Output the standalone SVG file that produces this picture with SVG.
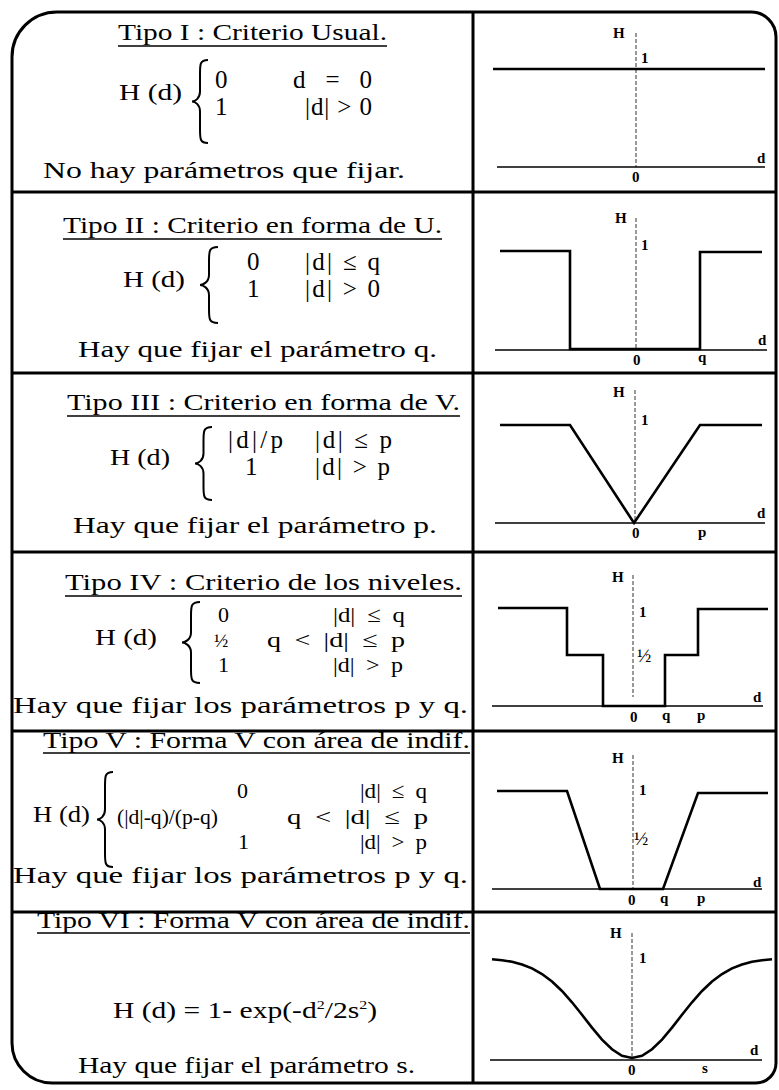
<svg xmlns="http://www.w3.org/2000/svg" width="779" height="1090" viewBox="0 0 779 1090">
<style>
.t{font-family:"Liberation Serif","Times New Roman",serif;font-size:24px;fill:#000}
.c{font-family:"Liberation Serif","Times New Roman",serif;font-size:25px;fill:#000}
.c3{font-family:"Liberation Serif","Times New Roman",serif;font-size:22px;fill:#000;word-spacing:5px}
.s{font-family:"Liberation Serif","Times New Roman",serif;font-size:20px;fill:#000}
.g{font-family:"Liberation Serif","Times New Roman",serif;font-size:15px;font-weight:bold;fill:#000}
.h{font-family:"Liberation Serif","Times New Roman",serif;font-size:19px;fill:#000}
.fn{fill:none;stroke:#000;stroke-width:2.6;stroke-linejoin:miter}
.ax{stroke:#000;stroke-width:1.4}
.vax{stroke:#333;stroke-width:1;stroke-dasharray:4 2}
.ul{stroke:#000;stroke-width:1.5}
.br{fill:none;stroke:#000;stroke-width:2}
.frame{fill:none;stroke:#000;stroke-width:3}
.sep{stroke:#000;stroke-width:3}
</style>
<rect width="779" height="1090" fill="#fff"/>
<g id="grid">
<path class="frame" d="M12,57 A45,45 0 0 1 57,12 L751,12 A25,25 0 0 1 776,37 L776,1063 A20,20 0 0 1 756,1083 L52,1083 A40,40 0 0 1 12,1043 Z"/>
<line class="sep" x1="473" y1="12" x2="473" y2="1083"/>
<line class="sep" x1="12" y1="192" x2="776" y2="192"/>
<line class="sep" x1="12" y1="373" x2="776" y2="373"/>
<line class="sep" x1="12" y1="552" x2="776" y2="552"/>
<line class="sep" x1="12" y1="731" x2="776" y2="731"/>
<line class="sep" x1="12" y1="912" x2="776" y2="912"/>
</g>
<g id="row1-text">
<text class="t" x="118" y="40" textLength="269" lengthAdjust="spacingAndGlyphs">Tipo I : Criterio Usual.</text>
<line class="ul" x1="118" y1="46" x2="387" y2="46"/>
<text class="t" x="119" y="100" textLength="63" lengthAdjust="spacingAndGlyphs">H (d)</text>
<path class="br" d="M208,60 C200,60 200,64 200,74 L200,91.5 C200,98.5 195,101.5 192,101.5 C195,101.5 200,104.5 200,111.5 L200,129 C200,139 200,143 208,143"/>
<text class="c" x="215" y="88">0</text>
<text class="c" x="293" y="88" textLength="79" lengthAdjust="spacing">d = 0</text>
<text class="c" x="215" y="115">1</text>
<text class="c" x="305" y="115" textLength="67" lengthAdjust="spacing">|d| &gt; 0</text>
<text class="t" x="43" y="178" textLength="362" lengthAdjust="spacingAndGlyphs">No hay parámetros que fijar.</text>
</g>
<g id="row2-text">
<text class="t" x="63" y="233" textLength="379" lengthAdjust="spacingAndGlyphs">Tipo II : Criterio en forma de U.</text>
<line class="ul" x1="63" y1="239" x2="442" y2="239"/>
<text class="t" x="123" y="287" textLength="62" lengthAdjust="spacingAndGlyphs">H (d)</text>
<path class="br" d="M218,247 C209,247 209,251 209,261 L209,275 C209,282 203,285 200,285 C203,285 209,288 209,295 L209,309 C209,319 209,323 218,323"/>
<text class="c" x="247" y="270">0</text>
<text class="c" x="305" y="270" textLength="75" lengthAdjust="spacing">|d| ≤ q</text>
<text class="c" x="247" y="297">1</text>
<text class="c" x="305" y="297" textLength="75" lengthAdjust="spacing">|d| &gt; 0</text>
<text class="t" x="78" y="357" textLength="359" lengthAdjust="spacingAndGlyphs">Hay que fijar el parámetro q.</text>
</g>
<g id="row3-text">
<text class="t" x="67" y="410" textLength="393" lengthAdjust="spacingAndGlyphs">Tipo III : Criterio en forma de V.</text>
<line class="ul" x1="67" y1="416" x2="460" y2="416"/>
<text class="t" x="110" y="465" textLength="60" lengthAdjust="spacingAndGlyphs">H (d)</text>
<path class="br" d="M212,427 C203.5,427 203.5,431 203.5,441 L203.5,453.5 C203.5,460.5 198,463.5 195,463.5 C198,463.5 203.5,466.5 203.5,473.5 L203.5,486 C203.5,496 203.5,500 212,500"/>
<text class="c" x="228" y="448" textLength="55" lengthAdjust="spacing">|d|/p</text>
<text class="c" x="315" y="448" textLength="77" lengthAdjust="spacing">|d| ≤ p</text>
<text class="c" x="245" y="475">1</text>
<text class="c" x="315" y="475" textLength="75" lengthAdjust="spacing">|d| &gt; p</text>
<text class="t" x="73" y="533" textLength="364" lengthAdjust="spacingAndGlyphs">Hay que fijar el parámetro p.</text>
</g>
<g id="row4-text">
<text class="t" x="65" y="590" textLength="397" lengthAdjust="spacingAndGlyphs">Tipo IV : Criterio de los niveles.</text>
<line class="ul" x1="65" y1="596" x2="462" y2="596"/>
<text class="t" x="95" y="645" textLength="62" lengthAdjust="spacingAndGlyphs">H (d)</text>
<path class="br" d="M200,602 C191,602 191,606 191,616 L191,632.5 C191,639.5 185,642.5 182,642.5 C185,642.5 191,645.5 191,652.5 L191,669 C191,679 191,683 200,683"/>
<text class="c3" x="218" y="622">0</text>
<text class="c3" x="333" y="622" textLength="72" lengthAdjust="spacingAndGlyphs">|d| ≤ q</text>
<text class="h" x="214" y="647">½</text>
<text class="c3" x="267" y="647" textLength="138" lengthAdjust="spacingAndGlyphs">q &lt; |d| ≤ p</text>
<text class="c3" x="218" y="672">1</text>
<text class="c3" x="333" y="672" textLength="70" lengthAdjust="spacingAndGlyphs">|d| &gt; p</text>
<text class="t" x="13" y="713" textLength="455" lengthAdjust="spacingAndGlyphs">Hay que fijar los parámetros p y q.</text>
</g>
<g id="row5-text">
<text class="t" x="43" y="748" textLength="427" lengthAdjust="spacingAndGlyphs">Tipo V : Forma V con área de indif.</text>
<line class="ul" x1="43" y1="753" x2="470" y2="753"/>
<text class="t" x="33" y="822" textLength="57" lengthAdjust="spacingAndGlyphs">H (d)</text>
<path class="br" d="M113,772 C105,772 105,776 105,786 L105,809.5 C105,816.5 100,819.5 97,819.5 C100,819.5 105,822.5 105,829.5 L105,853 C105,863 105,867 113,867"/>
<text class="c3" x="237" y="798">0</text>
<text class="c3" x="360" y="798" textLength="67" lengthAdjust="spacingAndGlyphs">|d| ≤ q</text>
<text class="s" x="117" y="824" textLength="101" lengthAdjust="spacingAndGlyphs">(|d|-q)/(p-q)</text>
<text class="c3" x="287" y="824" textLength="141" lengthAdjust="spacingAndGlyphs">q &lt; |d| ≤ p</text>
<text class="c3" x="238" y="849">1</text>
<text class="c3" x="360" y="849" textLength="67" lengthAdjust="spacingAndGlyphs">|d| &gt; p</text>
<text class="t" x="13" y="883" textLength="455" lengthAdjust="spacingAndGlyphs">Hay que fijar los parámetros p y q.</text>
</g>
<g id="row6-text">
<text class="t" x="37" y="928" textLength="433" lengthAdjust="spacingAndGlyphs">Tipo VI : Forma V con área de indif.</text>
<line class="ul" x1="37" y1="933" x2="470" y2="933"/>
<text class="t" x="113" y="1018" textLength="264" lengthAdjust="spacingAndGlyphs">H (d) = 1- exp(-d<tspan font-size="13" dy="-9">2</tspan><tspan dy="9">/2s</tspan><tspan font-size="13" dy="-9">2</tspan><tspan dy="9">)</tspan></text>
<text class="t" x="78" y="1073" textLength="337" lengthAdjust="spacingAndGlyphs">Hay que fijar el parámetro s.</text>
</g>
<g id="graph1">
<line class="vax" x1="636" y1="33" x2="636" y2="167"/>
<line class="ax" x1="497" y1="167" x2="765" y2="167"/>
<line class="fn" x1="493" y1="69" x2="765" y2="69"/>
<text class="g" x="613" y="38">H</text>
<text class="g" x="641" y="63">1</text>
<text class="g" x="757" y="163">d</text>
<text class="g" x="632" y="182">0</text>
</g>
<g id="graph2">
<line class="vax" x1="636" y1="218" x2="636" y2="348"/>
<line class="ax" x1="495" y1="350" x2="767" y2="350"/>
<polyline class="fn" points="500,251 570,251 570,349 700,349 700,252 762,252"/>
<text class="g" x="615" y="223">H</text>
<text class="g" x="641" y="250">1</text>
<text class="g" x="758" y="345">d</text>
<text class="g" x="633" y="365">0</text>
<text class="g" x="698" y="362">q</text>
</g>
<g id="graph3">
<line class="vax" x1="635" y1="390" x2="635" y2="523"/>
<line class="ax" x1="495" y1="523" x2="765" y2="523"/>
<polyline class="fn" points="500,425 570,425 634,523 700,425 762,425"/>
<text class="g" x="613" y="397">H</text>
<text class="g" x="641" y="425">1</text>
<text class="g" x="757" y="518">d</text>
<text class="g" x="632" y="538">0</text>
<text class="g" x="698" y="537">p</text>
</g>
<g id="graph4">
<line class="vax" x1="633" y1="575" x2="633" y2="697"/>
<line class="ax" x1="492" y1="706" x2="763" y2="706"/>
<polyline class="fn" points="498,608 567,608 567,655 603,655 603,706 665,706 665,655 698,655 698,609 768,609"/>
<text class="g" x="612" y="582">H</text>
<text class="g" x="639" y="617">1</text>
<text class="h" x="637" y="662">½</text>
<text class="g" x="753" y="702">d</text>
<text class="g" x="630" y="722">0</text>
<text class="g" x="662" y="720">q</text>
<text class="g" x="697" y="720">p</text>
</g>
<g id="graph5">
<line class="vax" x1="633" y1="755" x2="633" y2="888"/>
<line class="ax" x1="492" y1="889" x2="762" y2="889"/>
<polyline class="fn" points="497,791 567,791 600,889 663,889 698,793 768,793"/>
<text class="g" x="612" y="763">H</text>
<text class="g" x="639" y="795">1</text>
<text class="h" x="634" y="845">½</text>
<text class="g" x="753" y="887">d</text>
<text class="g" x="628" y="905">0</text>
<text class="g" x="660" y="903">q</text>
<text class="g" x="697" y="903">p</text>
</g>
<g id="graph6">
<line class="vax" x1="632" y1="933" x2="632" y2="1058"/>
<line class="ax" x1="490" y1="1060" x2="762" y2="1060"/>
<polyline class="fn" stroke-linejoin="round" points="492,959.2 502,960.2 512,961.8 522,964.5 532,968.4 542,974 552,981.5 562,991 572,1002.3 582,1014.8 592,1027.6 602,1039.6 612,1049.3 622,1055.8 632,1058 642,1055.8 652,1049.3 662,1039.6 672,1027.6 682,1014.8 692,1002.3 702,991 712,981.5 722,974 732,968.4 742,964.5 752,961.8 762,960.2 772,959.2"/>
<text class="g" x="610" y="938">H</text>
<text class="g" x="639" y="963">1</text>
<text class="g" x="750" y="1055">d</text>
<text class="g" x="628" y="1075">0</text>
<text class="g" x="702" y="1073">s</text>
</g>
</svg>
